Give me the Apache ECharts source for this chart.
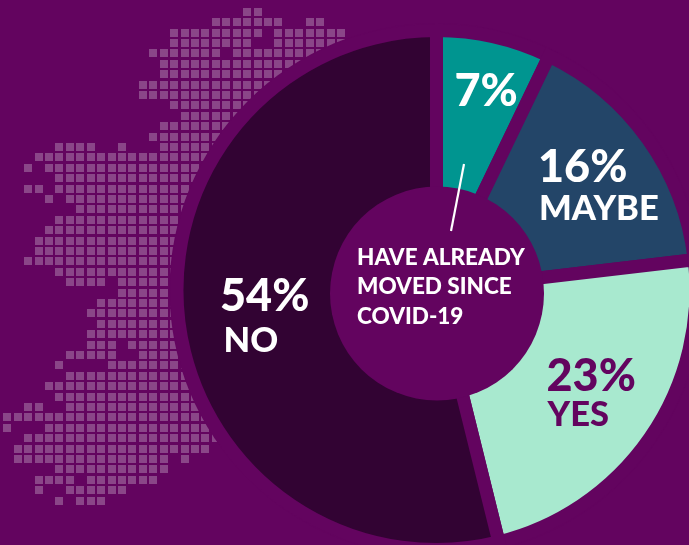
<!DOCTYPE html>
<html><head><meta charset="utf-8">
<style>html,body{margin:0;padding:0;background:#63045f}#c{width:689px;height:545px}</style>
<script src="https://cdn.jsdelivr.net/npm/echarts@6/dist/echarts.min.js"></script>
</head><body><div id="c"></div>
<script>
const categories = ['', 'MAYBE', 'YES', 'NO'];
const values = [7.14, 16, 23, 53.86];
const sliceColors = ['#009590', '#234568', '#a8e9cf', '#320333'];
const centerLines = ['HAVE ALREADY', 'MOVED SINCE', 'COVID-19'];
// Ireland dot map: for each row, pairs of [first column, last column]
const mapRuns = [
 [23,24],[20,26,29,30],[16,24,26,32],[16,23,26,32],[14,20,22,33],[15,33],[15,33],[13,33],[13,33],[16,33],
 [17,33],[15,33],[14,33],[5,8,11,11,15,33],[3,33],[2,2,4,33],[5,33],[2,3,5,33],[4,4,6,33],[7,33],
 [5,33],[4,33],[3,33],[3,33],[2,33],[5,33],[6,9,11,33],[11,33],[9,33],[8,33],
 [9,33],[8,33],[8,10,12,33],[6,10,13,33],[5,5,10,33],[6,33],[4,33],[5,33],[2,3,6,33],[0,33],
 [0,0,4,33],[2,20],[1,19],[1,15,17,17],[5,15],[3,6,8,14],[3,3,6,11],[5,5,7,9]
];
const BG = '#63045f', FONT = 'Lato';
const mapPoints = [];
mapRuns.forEach((runs, r) => {
  for (let i = 0; i < runs.length; i += 2)
    for (let c = runs[i]; c <= runs[i + 1]; c++) mapPoints.push([c, r]);
});
const W = 689, H = 545, pitchX = 10.43, pitchY = 10.4, offX = 7.3, offY = 11.8, cell = 8;
const CX = 436.5, CY = 290, GAP = 13, R = 253;
const txt = (s, x, y, size, fill, weight) => ({
  type: 'text', z: 10, silent: true, x, y,
  style: { text: s, fill, font: `${weight || 900} ${size}px ${FONT}`, textAlign: 'left', textVerticalAlign: 'middle' }
});
const pct = i => Math.round(values[i]) + '%';
const chart = echarts.init(document.getElementById('c'), null, { renderer: 'canvas' });
chart.setOption({
  animation: false,
  backgroundColor: BG,
  grid: { left: 0, top: 0, width: W, height: H },
  xAxis: { type: 'value', show: false, min: -offX / pitchX, max: (W - offX) / pitchX },
  yAxis: { type: 'value', show: false, inverse: true, min: -offY / pitchY, max: (H - offY) / pitchY },
  series: [
    { type: 'custom', z: 1, silent: true, coordinateSystem: 'cartesian2d', data: mapPoints,
      encode: { x: 0, y: 1 },
      renderItem: (params, api) => {
        const p = api.coord([api.value(0), api.value(1)]);
        return { type: 'rect', shape: { x: Math.round(p[0] - cell / 2), y: Math.round(p[1] - cell / 2), width: cell, height: cell },
          style: { fill: '#8a4688' } };
      } },
    { type: 'pie', z: 2, silent: true, center: [CX, CY], radius: [0, 267], label: { show: false },
      data: [{ value: 1, itemStyle: { color: BG } }] },
    { type: 'pie', z: 3, silent: true, center: [CX, CY], radius: [0, R + GAP / 2], startAngle: 90, clockwise: true,
      label: { show: false }, labelLine: { show: false },
      itemStyle: { borderColor: BG, borderWidth: GAP, borderJoin: 'miter' },
      data: values.map((v, i) => ({ name: categories[i] || 'Already moved', value: v, itemStyle: { color: sliceColors[i] } })) },
    { type: 'pie', z: 4, silent: true, center: [437, 293.5], radius: [0, 107], label: { show: false },
      data: [{ value: 1, itemStyle: { color: BG } }] }
  ],
  graphic: [
    { type: 'line', z: 10, silent: true, shape: { x1: 464, y1: 164, x2: 451, y2: 231 }, style: { stroke: '#fff', lineWidth: 2.2 } },
    txt(pct(0), 454.5, 91.5, 45, '#fff'),
    txt(pct(1), 538, 167.5, 45, '#fff'),
    txt(categories[1], 539, 209, 34.5, '#fff'),
    txt(pct(2), 546.5, 376.5, 45, BG),
    txt(categories[2], 547.5, 415, 34.5, BG),
    txt(pct(3), 220, 296.5, 45, '#fff'),
    txt(categories[3], 223.5, 341, 34.5, '#fff'),
    txt(centerLines[0], 357, 257.5, 22.5, '#fff'),
    txt(centerLines[1], 357, 286.5, 22.5, '#fff'),
    txt(centerLines[2], 357, 316.5, 22.5, '#fff')
  ]
});
</script></body></html>
